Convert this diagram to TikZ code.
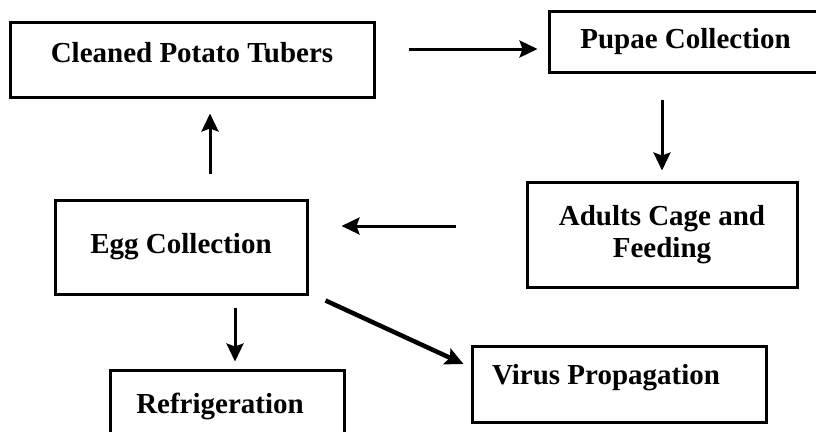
\documentclass[tikz,border=0pt]{standalone}
\usepackage{fontspec}
\setmainfont{Liberation Serif}
\usetikzlibrary{arrows.meta}

\tikzset{
box/.style={draw, line width=3pt, inner sep=0pt, font=\bfseries\fontsize{29}{32}\selectfont},
arr/.style={-{Stealth[length=18pt,width=17pt,inset=3pt]}, line width=3pt}
}

\begin{document}
\begin{tikzpicture}[x=1pt,y=-1pt]
\useasboundingbox (0,0) rectangle (816,431);

\node[box, minimum width=364pt, minimum height=75pt, text height=20pt, text depth=14pt] (cpt) at (192,59.5) {Cleaned Potato Tubers};
\node[box, minimum width=273pt, minimum height=61pt] (pc) at (685.5,41.5) {Pupae Collection};
\node[box, minimum width=270pt, minimum height=105pt, align=center] (acf) at (662,234.5) {Adults Cage and\\Feeding};
\node[box, minimum width=252pt, minimum height=94pt] (ec) at (181,247) {Egg Collection};
\node[box, minimum width=234pt, minimum height=72pt] (ref) at (227,406) {Refrigeration\hspace*{14pt}};
\node[box, minimum width=294pt, minimum height=76pt, text height=20pt, text depth=19pt] (vp) at (619,384) {Virus Propagation\hspace*{26pt}};

\draw[arr] ([xshift=33pt,yshift=10.5pt]cpt.east) -- ([xshift=-10pt,yshift=-7.5pt]pc.west);
\draw[arr, shorten <=26pt, shorten >=10pt] (acf.north |- pc.south) -- (acf.north);
\draw[arr] ([xshift=-70pt,yshift=8.5pt]acf.west) -- ([xshift=33pt,yshift=21pt]ec.east);
\draw[arr] ([xshift=29pt,yshift=25pt]ec.north) -- ([xshift=18pt,yshift=-15pt]cpt.south);
\draw[arr] ([xshift=54pt,yshift=-12pt]ec.south) -- ([xshift=8pt,yshift=7pt]ref.north);
\draw[arr, line width=4.5pt] ([xshift=17pt,yshift=-5pt]ec.south east) -- ([xshift=-7pt,yshift=20pt]vp.west);

\end{tikzpicture}
\end{document}
